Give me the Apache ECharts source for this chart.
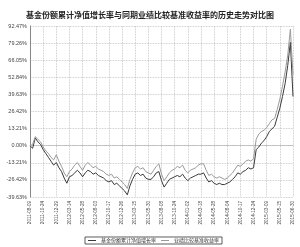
<!DOCTYPE html>
<html><head><meta charset="utf-8">
<script src="https://cdn.jsdelivr.net/npm/echarts@6/dist/echarts.min.js"></script>
<style>html,body{margin:0;padding:0;background:#fff}#c{width:300px;height:247px}</style>
</head><body><div id="c"></div>
<script>
const titleText = '基金份额累计净值增长率与同期业绩比较基准收益率的历史走势对比图';
const seriesNames = ['基金份额累计净值增长率', '业绩比较基准收益率'];
const xTickLabels = ['2011-08-09','2011-10-24','2011-12-29','2012-03-14','2012-05-28','2012-08-03','2012-10-17','2012-12-26','2013-03-15','2013-05-30','2013-08-08','2013-10-24','2014-01-02','2014-03-18','2014-05-28','2014-08-04','2014-10-17','2014-12-24','2015-03-09','2015-05-15','2015-06-30'];
const pointsPerTick = 5;
const fundValues = [0,-2,6,3,1,-3,-6,-9,-12,-15,-13,-17,-20,-25,-29,-24,-23,-21,-19,-21,-24,-21,-19,-20,-22,-21,-23,-24,-25,-27,-28,-27,-30,-29,-31,-33,-35,-38,-31,-26,-22,-21,-23,-22,-25,-26,-26,-24,-21,-20,-27,-32,-29,-26,-25,-24,-23,-24,-22,-25,-27,-25,-24,-23,-22,-22,-21,-25,-28,-27,-29,-30,-29,-30,-30,-29,-28,-26,-24,-21,-22,-20,-19,-17,-18,-17,-3,-1,2,4,7,11,13,15,22,29,38,48,62,80,38];
const benchValues = [0,1,7,5,3,-1,-4,-6,-9,-11,-7,-12,-16,-21,-24,-20,-18,-15,-13,-16,-19,-15,-13,-15,-17,-16,-18,-19,-20,-22,-23,-22,-25,-24,-26,-28,-30,-33,-26,-21,-17,-16,-18,-17,-20,-21,-22,-19,-16,-14,-22,-27,-24,-21,-19,-18,-16,-17,-15,-19,-21,-19,-18,-17,-15,-14,-14,-19,-23,-22,-24,-25,-24,-25,-26,-25,-23,-21,-18,-15,-16,-14,-12,-11,-12,-10,5,9,11,12,14,17,20,21,28,36,46,57,70,90,55];
const yMin = -39.63, yMax = 92.47, yStep = 13.21;

const toPairs = arr => arr.map((v, i) => [i, v]);
const chart = echarts.init(document.getElementById('c'), null, {renderer: 'canvas'});
const font = 'Liberation Sans, Arial, sans-serif';
chart.setOption({
  animation: false,
  backgroundColor: '#fff',
  title: {
    text: titleText, left: 'center', top: 6,
    textStyle: {fontSize: 8, fontWeight: 'bold', color: '#222', fontFamily: 'Noto Sans CJK SC'}
  },
  legend: {
    data: seriesNames, bottom: 3, left: 85,
    borderColor: '#333', borderWidth: 0.8, padding: [1, 3],
    itemGap: 5, itemWidth: 8, itemHeight: 1, icon: 'rect',
    textStyle: {fontSize: 5, color: '#333', fontFamily: 'Noto Sans CJK SC', padding: [0,0,0,0]}
  },
  grid: {left: 30, right: 7, top: 26, bottom: 50, containLabel: false},
  xAxis: {
    type: 'value', min: 0, max: (xTickLabels.length - 1) * pointsPerTick, interval: pointsPerTick,
    axisLine: {show: true, lineStyle: {color: '#bbb', type: 'dotted'}},
    axisTick: {show: false},
    splitLine: {show: true, lineStyle: {color: '#bbb', type: 'dotted', width: 0.8}},
    axisLabel: {
      rotate: 90, fontSize: 4.6, color: '#444', fontFamily: font, margin: 4,
      formatter: v => xTickLabels[Math.round(v / pointsPerTick)] || ''
    }
  },
  yAxis: {
    type: 'value', min: yMin, max: yMax, interval: yStep,
    axisLine: {show: true, lineStyle: {color: '#888', width: 1}},
    axisTick: {show: false},
    splitLine: {show: true, lineStyle: {color: '#bbb', type: 'dotted', width: 0.8}},
    axisLabel: {
      fontSize: 5.5, color: '#444', fontFamily: font, margin: 3,
      formatter: v => (Math.abs(v) < 1e-6 ? 0 : v).toFixed(2) + '%'
    }
  },
  series: [
    {name: seriesNames[0], type: 'line', data: toPairs(fundValues), showSymbol: false,
     lineStyle: {color: '#3a3a3a', width: 1}, itemStyle: {color: '#3a3a3a'}},
    {name: seriesNames[1], type: 'line', data: toPairs(benchValues), showSymbol: false,
     lineStyle: {color: '#9a9a9a', width: 1}, itemStyle: {color: '#9a9a9a'}}
  ]
});
</script></body></html>
